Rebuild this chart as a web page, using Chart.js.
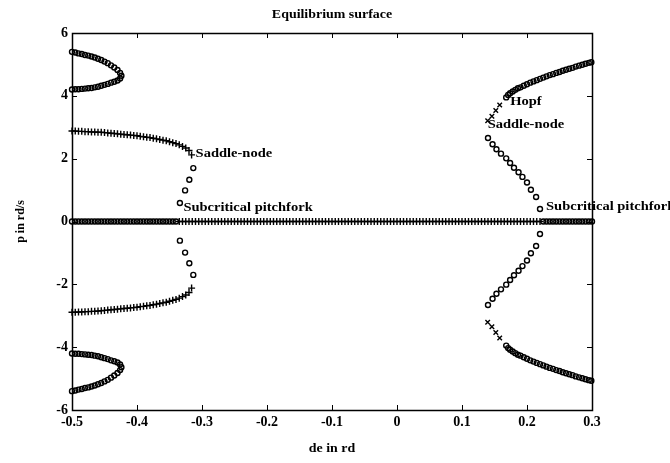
<!DOCTYPE html>
<html>
<head>
<meta charset="utf-8">
<title>Equilibrium surface</title>
<script src="https://cdn.jsdelivr.net/npm/chart.js@4/dist/chart.umd.min.js"></script>
<style>
  html, body { margin: 0; padding: 0; background: #ffffff; }
  #wrap { position: relative; width: 670px; height: 463px; }
</style>
</head>
<body>
<div id="wrap"><canvas id="c" width="670" height="463"></canvas></div>
<script>
// ---- axis ticks ----
const xTicks = [-0.5, -0.4, -0.3, -0.2, -0.1, 0, 0.1, 0.2, 0.3];
const yTicks = [-6, -4, -2, 0, 2, 4, 6];

// ---- trivial equilibrium p = 0 ----
const deTrivialUnstableLeft = [-0.5,-0.495,-0.49,-0.485,-0.48,-0.475,-0.47,-0.465,-0.46,-0.455,-0.45,-0.445,-0.44,-0.435,-0.43,-0.425,-0.42,-0.415,-0.41,-0.405,-0.4,-0.395,-0.39,-0.385,-0.38,-0.375,-0.37,-0.365,-0.36,-0.355,-0.35,-0.345,-0.34];
const deTrivialStable = [-0.335,-0.33,-0.325,-0.32,-0.315,-0.31,-0.305,-0.3,-0.295,-0.29,-0.285,-0.28,-0.275,-0.27,-0.265,-0.26,-0.255,-0.25,-0.245,-0.24,-0.235,-0.23,-0.225,-0.22,-0.215,-0.21,-0.205,-0.2,-0.195,-0.19,-0.185,-0.18,-0.175,-0.17,-0.165,-0.16,-0.155,-0.15,-0.145,-0.14,-0.135,-0.13,-0.125,-0.12,-0.115,-0.11,-0.105,-0.1,-0.095,-0.09,-0.085,-0.08,-0.075,-0.07,-0.065,-0.06,-0.055,-0.05,-0.045,-0.04,-0.035,-0.03,-0.025,-0.02,-0.015,-0.01,-0.005,0,0.005,0.01,0.015,0.02,0.025,0.03,0.035,0.04,0.045,0.05,0.055,0.06,0.065,0.07,0.075,0.08,0.085,0.09,0.095,0.1,0.105,0.11,0.115,0.12,0.125,0.13,0.135,0.14,0.145,0.15,0.155,0.16,0.165,0.17,0.175,0.18,0.185,0.19,0.195,0.2,0.205,0.21,0.215,0.22];
const deTrivialUnstableRight = [0.225,0.23,0.235,0.24,0.245,0.25,0.255,0.26,0.265,0.27,0.275,0.28,0.285,0.29,0.295,0.3];

// ---- left stable branches (+) ----
const deLeftStable = [-0.5,-0.495,-0.49,-0.485,-0.48,-0.475,-0.47,-0.465,-0.46,-0.455,-0.45,-0.445,-0.44,-0.435,-0.43,-0.425,-0.42,-0.415,-0.41,-0.405,-0.4,-0.395,-0.39,-0.385,-0.38,-0.375,-0.37,-0.365,-0.36,-0.355,-0.35,-0.345,-0.34,-0.335,-0.33,-0.325,-0.32,-0.316];
const pLeftStableUp = [2.88,2.88,2.87,2.87,2.86,2.86,2.85,2.85,2.84,2.84,2.83,2.82,2.81,2.80,2.79,2.78,2.77,2.76,2.75,2.74,2.73,2.71,2.70,2.68,2.67,2.65,2.63,2.61,2.59,2.57,2.54,2.51,2.48,2.44,2.39,2.34,2.26,2.12];
const pLeftStableDown = [-2.89,-2.89,-2.88,-2.88,-2.87,-2.87,-2.86,-2.86,-2.85,-2.84,-2.83,-2.82,-2.81,-2.80,-2.79,-2.78,-2.77,-2.76,-2.75,-2.74,-2.73,-2.71,-2.70,-2.68,-2.67,-2.65,-2.63,-2.61,-2.59,-2.57,-2.54,-2.51,-2.48,-2.44,-2.39,-2.34,-2.26,-2.12];

// ---- left unstable fold (o) ----
const deLeftFold = [-0.3134, -0.3195, -0.326, -0.334];
const pLeftFoldUp = [1.70, 1.33, 0.99, 0.59];
const pLeftFoldDown = [-1.70, -1.33, -0.99, -0.61];

// ---- left unstable loops near |p| = 4..5.4 (o) ----
const deLeftLoop = [-0.5,-0.495,-0.49,-0.485,-0.48,-0.475,-0.47,-0.465,-0.46,-0.455,-0.45,-0.445,-0.44,-0.435,-0.43,-0.426,-0.424,
                    -0.426,-0.43,-0.435,-0.44,-0.445,-0.45,-0.455,-0.46,-0.465,-0.47,-0.475,-0.48,-0.485,-0.49,-0.495,-0.5];
const pLeftLoopUp = [4.20,4.21,4.21,4.22,4.23,4.24,4.25,4.27,4.29,4.32,4.35,4.38,4.42,4.45,4.49,4.55,4.64,
                     4.73,4.82,4.90,4.97,5.04,5.09,5.14,5.18,5.22,5.25,5.28,5.30,5.33,5.35,5.38,5.40];
const pLeftLoopDown = [-4.20,-4.21,-4.21,-4.22,-4.23,-4.24,-4.25,-4.27,-4.29,-4.32,-4.35,-4.38,-4.42,-4.45,-4.49,-4.55,-4.64,
                       -4.73,-4.82,-4.90,-4.97,-5.04,-5.09,-5.14,-5.18,-5.22,-5.25,-5.28,-5.30,-5.33,-5.35,-5.38,-5.40];

// ---- right outer branches from the Hopf point (o) ----
const deRightOuter = [0.168,0.171,0.174,0.178,0.182,0.186,0.19,0.195,0.2,0.205,0.21,0.215,0.22,0.225,0.23,0.235,0.24,0.245,0.25,0.255,0.26,0.265,0.27,0.275,0.28,0.285,0.29,0.295,0.299];
const pRightOuterUp = [3.95,4.03,4.08,4.14,4.19,4.24,4.27,4.32,4.37,4.42,4.46,4.50,4.54,4.58,4.62,4.66,4.69,4.73,4.76,4.80,4.83,4.86,4.89,4.93,4.96,4.99,5.02,5.05,5.07];
const pRightOuterDown = [-3.95,-4.03,-4.08,-4.14,-4.19,-4.24,-4.27,-4.32,-4.37,-4.42,-4.46,-4.50,-4.54,-4.58,-4.62,-4.66,-4.69,-4.73,-4.76,-4.80,-4.83,-4.86,-4.89,-4.93,-4.96,-4.99,-5.02,-5.05,-5.07];

// ---- right segment between Hopf and saddle-node (x) ----
const deRightMid = [0.158, 0.152, 0.146, 0.1395];
const pRightMidUp = [3.71, 3.53, 3.35, 3.21];
const pRightMidDown = [-3.71, -3.53, -3.35, -3.21];

// ---- right inner branches down to the pitchfork (o) ----
const deRightInner = [0.14,0.147,0.153,0.16,0.168,0.174,0.18,0.187,0.193,0.2,0.206,0.214,0.22];
const pRightInnerUp = [2.66,2.46,2.30,2.16,2.01,1.86,1.71,1.57,1.42,1.24,1.01,0.78,0.40];
const pRightInnerDown = [-2.66,-2.46,-2.30,-2.16,-2.01,-1.86,-1.71,-1.57,-1.42,-1.24,-1.01,-0.78,-0.40];

// ---- annotations ----
const noteTexts = ['Saddle-node', 'Subcritical pitchfork', 'Hopf', 'Saddle-node', 'Subcritical pitchfork'];
const noteDe = [-0.316, -0.334, 0.168, 0.1395, 0.22];
const noteP = [2.12, 0.59, 3.95, 3.21, 0.40];

const titleText = 'Equilibrium surface';
const xTitleText = 'de in rd';
const yTitleText = 'p in rd/s';

// ---- helpers ----
const pts = (xs, ys) => xs.map((x, i) => ({ x: x, y: ys[i] }));
const flat = (xs) => xs.map(x => ({ x: x, y: 0 }));

const SERIF = "'Liberation Serif', 'Times New Roman', serif";
const INK = '#000000';

const circleStyle = {
  showLine: false, pointStyle: 'circle', pointRadius: 2.5, pointBorderWidth: 1.4,
  borderColor: INK, backgroundColor: 'rgba(0,0,0,0)', pointBackgroundColor: 'rgba(0,0,0,0)',
  pointBorderColor: INK, clip: false
};
const plusStyle = {
  showLine: false, pointStyle: 'cross', pointRadius: 3.5, pointBorderWidth: 1.4,
  borderColor: INK, pointBorderColor: INK, clip: false
};
const xStyle = {
  showLine: false, pointStyle: 'crossRot', pointRadius: 3.2, pointBorderWidth: 1.4,
  borderColor: INK, pointBorderColor: INK, clip: false
};

const datasets = [
  Object.assign({ label: 'trivial stable', data: flat(deTrivialStable) }, plusStyle),
  Object.assign({ label: 'trivial unstable left', data: flat(deTrivialUnstableLeft) }, circleStyle),
  Object.assign({ label: 'trivial unstable right', data: flat(deTrivialUnstableRight) }, circleStyle),
  Object.assign({ label: 'left stable up', data: pts(deLeftStable, pLeftStableUp) }, plusStyle),
  Object.assign({ label: 'left stable down', data: pts(deLeftStable, pLeftStableDown) }, plusStyle),
  Object.assign({ label: 'left fold up', data: pts(deLeftFold, pLeftFoldUp) }, circleStyle),
  Object.assign({ label: 'left fold down', data: pts(deLeftFold, pLeftFoldDown) }, circleStyle),
  Object.assign({ label: 'left loop up', data: pts(deLeftLoop, pLeftLoopUp) }, circleStyle),
  Object.assign({ label: 'left loop down', data: pts(deLeftLoop, pLeftLoopDown) }, circleStyle),
  Object.assign({ label: 'right outer up', data: pts(deRightOuter, pRightOuterUp) }, circleStyle),
  Object.assign({ label: 'right outer down', data: pts(deRightOuter, pRightOuterDown) }, circleStyle),
  Object.assign({ label: 'right mid up', data: pts(deRightMid, pRightMidUp) }, xStyle),
  Object.assign({ label: 'right mid down', data: pts(deRightMid, pRightMidDown) }, xStyle),
  Object.assign({ label: 'right inner up', data: pts(deRightInner, pRightInnerUp) }, circleStyle),
  Object.assign({ label: 'right inner down', data: pts(deRightInner, pRightInnerDown) }, circleStyle)
];

// Draws stretched bold serif text (the figure's lettering is slightly wide).
function wideText(ctx, text, x, y, align, stretch) {
  ctx.save();
  ctx.translate(x, y);
  ctx.scale(stretch, 1);
  ctx.textAlign = align;
  ctx.fillText(text, 0, 0);
  ctx.restore();
}

// Box frame with inward ticks on all four sides.
const framePlugin = {
  id: 'frame',
  beforeDatasetsDraw(chart) {
    const { ctx, chartArea: a, scales } = chart;
    const L = 5;
    ctx.save();
    ctx.strokeStyle = INK;
    ctx.lineWidth = 1;
    ctx.beginPath();
    xTicks.forEach(v => {
      const px = Math.round(scales.x.getPixelForValue(v)) + 0.5;
      ctx.moveTo(px, a.bottom); ctx.lineTo(px, a.bottom - L);
      ctx.moveTo(px, a.top); ctx.lineTo(px, a.top + L);
    });
    yTicks.forEach(v => {
      const py = Math.round(scales.y.getPixelForValue(v)) + 0.5;
      ctx.moveTo(a.left, py); ctx.lineTo(a.left + L, py);
      ctx.moveTo(a.right, py); ctx.lineTo(a.right - L, py);
    });
    ctx.stroke();
    ctx.lineWidth = 1.5;
    ctx.strokeRect(Math.round(a.left) + 0.5, Math.round(a.top) + 0.5,
                   Math.round(a.right - a.left), Math.round(a.bottom - a.top));
    ctx.restore();
  }
};

// Title, axis titles and point annotations.
const textPlugin = {
  id: 'texts',
  afterDatasetsDraw(chart) {
    const { ctx, chartArea: a, scales } = chart;
    const cx = (a.left + a.right) / 2;
    const cy = (a.top + a.bottom) / 2;
    ctx.save();
    ctx.fillStyle = INK;
    ctx.textBaseline = 'alphabetic';
    ctx.font = 'bold 12px ' + SERIF;
    wideText(ctx, titleText, cx, 18, 'center', 1.16);
    wideText(ctx, xTitleText, cx, 452, 'center', 1.16);
    ctx.save();
    ctx.translate(24, cy);
    ctx.rotate(-Math.PI / 2);
    ctx.textAlign = 'center';
    ctx.fillText(yTitleText, 0, 0);
    ctx.restore();

    ctx.font = 'bold 12.5px ' + SERIF;
    const dx = [4, 3.5, 4, 0, 6];
    const dy = [2, 8, 7.5, 7.5, 1];
    noteTexts.forEach((t, i) => {
      const px = scales.x.getPixelForValue(noteDe[i]);
      const py = scales.y.getPixelForValue(noteP[i]);
      wideText(ctx, t, px + dx[i], py + dy[i], 'left', 1.16);
    });
    ctx.restore();
  }
};

new Chart(document.getElementById('c'), {
  type: 'scatter',
  data: { datasets: datasets },
  options: {
    responsive: false,
    animation: false,
    devicePixelRatio: 1,
    layout: { padding: { left: 0, right: 78, top: 33, bottom: 0 } },
    plugins: { legend: { display: false }, tooltip: { enabled: false }, title: { display: false } },
    scales: {
      x: {
        type: 'linear', min: -0.5, max: 0.3,
        afterBuildTicks: s => { s.ticks = xTicks.map(v => ({ value: v })); },
        afterFit: s => { s.height = 53; },
        grid: { display: false, drawTicks: false },
        border: { display: false },
        ticks: { color: INK, padding: 4, font: { family: SERIF, size: 14, weight: 'bold' },
                 callback: v => String(v), maxRotation: 0, autoSkip: false }
      },
      y: {
        type: 'linear', min: -6, max: 6,
        afterBuildTicks: s => { s.ticks = yTicks.map(v => ({ value: v })); },
        afterFit: s => { s.width = 72; },
        grid: { display: false, drawTicks: false },
        border: { display: false },
        ticks: { color: INK, padding: 4, font: { family: SERIF, size: 14, weight: 'bold' },
                 callback: v => String(v), autoSkip: false }
      }
    }
  },
  plugins: [framePlugin, textPlugin]
});
</script>
</body>
</html>
